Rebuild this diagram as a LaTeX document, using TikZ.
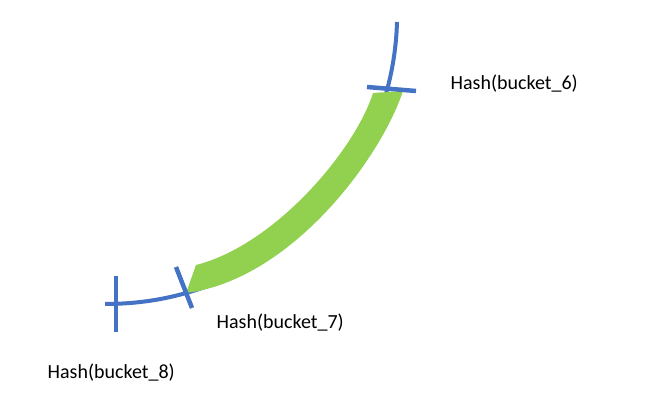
\documentclass[tikz,border=0pt]{standalone}
\usepackage{fontspec}
\setmainfont{Carlito}
\definecolor{ringblue}{HTML}{4472C4}
\definecolor{rangegreen}{HTML}{92D050}
\begin{document}
\begin{tikzpicture}[x=1pt,y=-1pt,
  hashtick/.style={draw=ringblue,line width=4.5pt},
  hashlabel/.style={anchor=base west,inner sep=0pt,font=\fontsize{20}{24}\selectfont}]
\useasboundingbox (0,0) rectangle (646,420);
% ring
\draw[ringblue,line width=4pt] (397,22) arc[start angle=1.6,end angle=90.4,radius=290];
% range between bucket_7 and bucket_6
\fill[rangegreen] (186,293) .. controls (290,280) and (380,160) .. (403,91)
  -- (373,93) .. controls (355,150) and (275,245) .. (196,265) -- cycle;
% hash positions
\draw[hashtick] (367,87) -- (416,91);
\draw[hashtick] (176,267) -- (192,308);
\draw[hashtick] (116,276) -- (116,332);
\node[hashlabel] (hash6) at (450.5,90) {Hash(bucket\_6)};
\node[hashlabel] (hash7) at (216.5,328) {Hash(bucket\_7)};
\node[hashlabel] (hash8) at (47.5,378) {Hash(bucket\_8)};
\end{tikzpicture}
\end{document}
